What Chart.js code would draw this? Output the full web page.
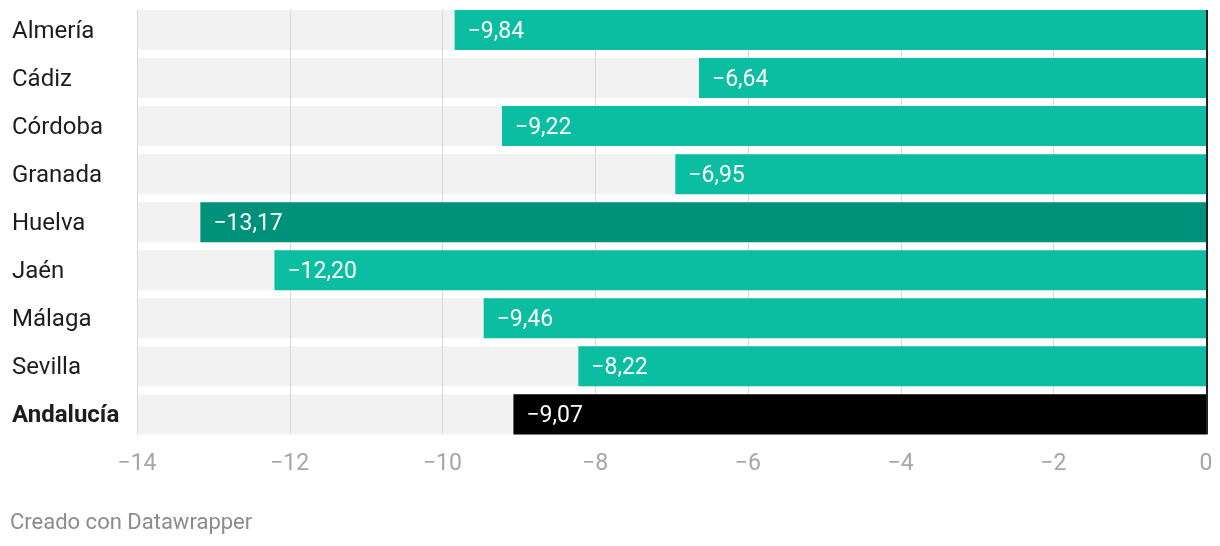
<!DOCTYPE html>
<html>
<head>
<meta charset="utf-8">
<script src="https://cdn.jsdelivr.net/npm/chart.js@4"></script>
<style>
html,body{margin:0;padding:0;background:#fff;}
#wrap{position:relative;width:1220px;height:546px;}
#footer{position:absolute;left:10px;top:508px;font-family:Roboto,sans-serif;font-size:22px;line-height:28px;color:#8c8c8c;}
</style>
</head>
<body>
<div id="wrap">
<canvas id="c" width="1220" height="546"></canvas>
<div id="footer">Creado con Datawrapper</div>
</div>
<script>
const categories = ["Almería","Cádiz","Córdoba","Granada","Huelva","Jaén","Málaga","Sevilla","Andalucía"];
const values = [-9.84,-6.64,-9.22,-6.95,-13.17,-12.20,-9.46,-8.22,-9.07];
const barColors = ["#0bbea1","#0bbea1","#0bbea1","#0bbea1","#00917a","#0bbea1","#0bbea1","#0bbea1","#000000"];
const axisMin = -14, axisMax = 0, axisStep = 2;

function fmt(v, dec){
  const s = Math.abs(v).toFixed(dec).replace('.', ',');
  return (v < 0 ? '\u2212' : '') + s;
}

const customPlugin = {
  id: 'custom',
  beforeDatasetsDraw(chart){
    const ctx = chart.ctx, xs = chart.scales.x;
    const meta = chart.getDatasetMeta(0);
    const x0 = xs.getPixelForValue(axisMin), x1 = xs.getPixelForValue(axisMax);
    ctx.save();
    ctx.fillStyle = '#f2f2f2';
    let top = Infinity, bot = -Infinity;
    meta.data.forEach(el => {
      const h = el.height;
      ctx.fillRect(x0, el.y - h/2, x1 - x0, h);
      top = Math.min(top, el.y - h/2); bot = Math.max(bot, el.y + h/2);
    });
    ctx.strokeStyle = '#d9d9d9';
    ctx.lineWidth = 1;
    for (let v = axisMin; v < axisMax; v += axisStep){
      const px = Math.round(xs.getPixelForValue(v)) + 0.5;
      ctx.beginPath(); ctx.moveTo(px, top); ctx.lineTo(px, bot); ctx.stroke();
    }
    ctx.restore();
  },
  afterDatasetsDraw(chart){
    const ctx = chart.ctx, xs = chart.scales.x;
    const meta = chart.getDatasetMeta(0);
    ctx.save();
    ctx.font = '23px Roboto';
    ctx.fillStyle = '#ffffff';
    ctx.textBaseline = 'middle';
    ctx.textAlign = 'left';
    let top = Infinity, bot = -Infinity;
    meta.data.forEach((el, i) => {
      const left = Math.min(el.x, el.base);
      ctx.fillText(fmt(values[i], 2), left + 13, el.y + 2);
      top = Math.min(top, el.y - el.height/2); bot = Math.max(bot, el.y + el.height/2);
    });
    const zx = xs.getPixelForValue(0);
    ctx.fillStyle = '#222222';
    ctx.fillRect(zx, top, 2, bot - top);
    ctx.restore();
  }
};

new Chart(document.getElementById('c'), {
  type: 'bar',
  data: {
    labels: categories,
    datasets: [{
      data: values,
      backgroundColor: barColors,
      borderWidth: 0,
      barPercentage: 0.833,
      categoryPercentage: 1.0
    }]
  },
  plugins: [customPlugin],
  options: {
    indexAxis: 'y',
    responsive: false,
    animation: false,
    events: [],
    layout: { padding: { left: 12, right: 14, top: 6, bottom: 56 } },
    plugins: { legend: { display: false }, tooltip: { enabled: false } },
    scales: {
      x: {
        min: axisMin, max: axisMax,
        grid: { display: false, drawTicks: false },
        border: { display: false },
        afterFit(scale){ scale.paddingLeft = 0; scale.paddingRight = 0; },
        ticks: {
          stepSize: axisStep,
          padding: 12,
          color: '#a6a6a6',
          font: { family: 'Roboto', size: 23 },
          maxRotation: 0,
          callback: v => fmt(v, 0)
        }
      },
      y: {
        grid: { display: false, drawTicks: false },
        border: { display: false },
        afterFit(scale){ scale.width = 125; scale.paddingTop = 0; scale.paddingBottom = 0; },
        ticks: {
          crossAlign: 'far',
          labelOffset: 2,
          color: '#1d1d1d',
          font: ctx => ({ family: 'Roboto', size: 24, weight: ctx.index === 8 ? 'bold' : 'normal' })
        }
      }
    }
  }
});
</script>
</body>
</html>
